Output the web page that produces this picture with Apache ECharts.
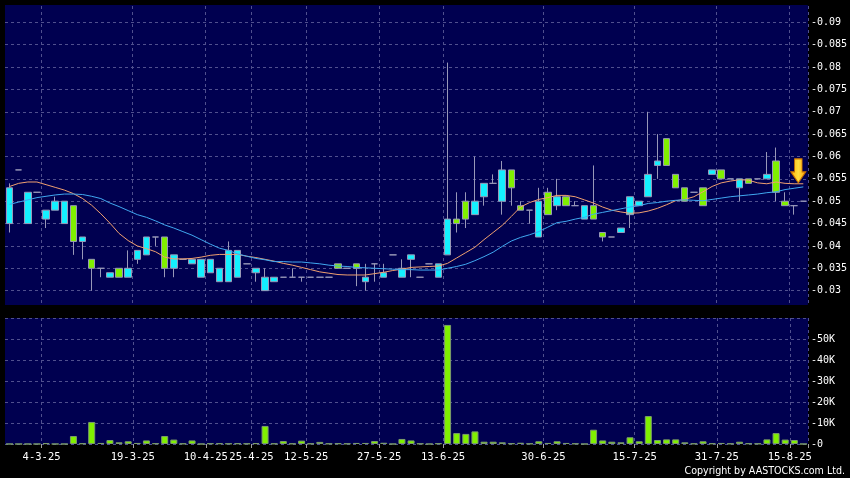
<!DOCTYPE html>
<html>
<head>
<meta charset="utf-8">
<script src="https://cdn.jsdelivr.net/npm/echarts@6/dist/echarts.min.js"></script>
<style>
html,body{margin:0;padding:0;background:#000;}
#chart{width:850px;height:478px;}
</style>
</head>
<body>
<div id="chart"></div>
<script>
// ---- data ----
const opens = [
  0.045,0.057,0.045,0.052,0.046,0.048,0.045,0.049,0.041,0.037,
  0.035,0.033,0.035,0.033,0.037,0.038,0.042,0.042,0.035,0.037,
  0.036,0.033,0.034,0.032,0.032,0.033,0.036,0.034,0.030,0.032,
  0.033,0.033,0.033,0.033,0.033,0.033,0.036,0.035,0.036,0.032,
  0.036,0.033,0.038,0.033,0.037,0.033,0.036,0.033,0.038,0.046,
  0.050,0.047,0.051,0.054,0.050,0.057,0.049,0.048,0.042,0.052,
  0.049,0.051,0.049,0.046,0.049,0.043,0.042,0.043,0.047,0.049,
  0.051,0.058,0.064,0.056,0.053,0.052,0.053,0.056,0.057,0.055,
  0.053,0.055,0.055,0.055,0.059,0.050,0.049,0.050
];
const closes = [
  0.053,0.057,0.052,0.052,0.048,0.050,0.050,0.041,0.042,0.035,
  0.035,0.034,0.033,0.035,0.039,0.042,0.042,0.035,0.038,0.037,
  0.037,0.037,0.037,0.035,0.039,0.039,0.036,0.035,0.033,0.033,
  0.033,0.033,0.033,0.033,0.033,0.033,0.035,0.035,0.035,0.033,
  0.036,0.034,0.038,0.035,0.038,0.033,0.036,0.036,0.046,0.045,
  0.046,0.050,0.054,0.054,0.057,0.053,0.048,0.048,0.050,0.047,
  0.051,0.049,0.049,0.049,0.046,0.042,0.042,0.044,0.051,0.050,
  0.056,0.059,0.058,0.053,0.050,0.052,0.049,0.057,0.055,0.055,
  0.055,0.054,0.055,0.056,0.052,0.049,0.049,0.050
];
const lows = [
  0.043,0.057,0.045,0.052,0.044,0.048,0.045,0.038,0.037,0.030,
  0.033,0.033,0.033,0.033,0.036,0.038,0.040,0.033,0.033,0.037,
  0.036,0.033,0.034,0.032,0.032,0.033,0.036,0.032,0.030,0.032,
  0.033,0.033,0.032,0.033,0.033,0.033,0.035,0.035,0.031,0.030,
  0.032,0.033,0.038,0.033,0.033,0.033,0.036,0.033,0.038,0.043,
  0.044,0.047,0.049,0.054,0.047,0.049,0.048,0.045,0.042,0.047,
  0.048,0.049,0.049,0.046,0.046,0.041,0.042,0.043,0.044,0.049,
  0.051,0.055,0.058,0.053,0.050,0.052,0.049,0.056,0.055,0.055,
  0.050,0.054,0.055,0.055,0.050,0.049,0.047,0.050
];
const highs = [
  0.054,0.057,0.052,0.052,0.048,0.051,0.050,0.049,0.042,0.037,
  0.035,0.034,0.035,0.039,0.039,0.042,0.042,0.042,0.038,0.037,
  0.037,0.037,0.037,0.035,0.041,0.039,0.036,0.035,0.035,0.033,
  0.033,0.035,0.033,0.033,0.033,0.033,0.036,0.035,0.036,0.036,
  0.036,0.036,0.038,0.037,0.038,0.033,0.036,0.036,0.081,0.052,
  0.052,0.060,0.054,0.056,0.059,0.057,0.050,0.048,0.053,0.053,
  0.055,0.051,0.050,0.049,0.058,0.043,0.042,0.044,0.051,0.050,
  0.070,0.065,0.064,0.056,0.053,0.052,0.053,0.057,0.057,0.055,
  0.055,0.055,0.055,0.061,0.062,0.052,0.049,0.050
];
const volumes = [
  0,0,0,0,400,0,0,3800,300,10500,
  500,1900,800,1300,500,1700,300,3800,2100,200,
  1700,0,300,300,200,300,200,400,8600,200,
  1400,200,1600,200,1000,200,300,200,500,500,
  1400,600,0,2400,1700,200,0,300,56700,5200,
  4800,6000,1100,1100,800,300,600,200,1300,500,
  1300,500,200,0,6800,1700,1100,800,3200,1300,
  13300,1900,2200,2200,800,200,1300,300,500,200,
  1100,300,200,2200,5200,2100,1900,0
];
const maShort = [
  0.0533,0.0540,0.0543,0.0543,0.0537,0.0531,0.0525,0.0517,0.0506,0.0491,
  0.0472,0.0451,0.0428,0.0412,0.0400,0.0394,0.0387,0.0375,0.0371,0.0371,
  0.0372,0.0375,0.0379,0.0381,0.0381,0.0381,0.0377,0.0374,0.0370,0.0366,
  0.0361,0.0357,0.0352,0.0347,0.0342,0.0339,0.0336,0.0335,0.0335,0.0335,
  0.0338,0.0341,0.0345,0.0348,0.0352,0.0353,0.0354,0.0355,0.0361,0.0373,
  0.0385,0.0397,0.0414,0.0430,0.0446,0.0466,0.0487,0.0497,0.0504,0.0508,
  0.0513,0.0513,0.0510,0.0503,0.0496,0.0487,0.0480,0.0476,0.0473,0.0474,
  0.0478,0.0484,0.0492,0.0501,0.0504,0.0510,0.0521,0.0533,0.0541,0.0545,
  0.0548,0.0547,0.0541,0.0539,0.0543,0.0540,0.0539,0.0539
];
const maLong = [
  0.0493,0.0498,0.0503,0.0508,0.0511,0.0514,0.0516,0.0516,0.0515,0.0511,
  0.0506,0.0496,0.0488,0.0479,0.0470,0.0464,0.0456,0.0447,0.0440,0.0432,
  0.0424,0.0414,0.0404,0.0395,0.0390,0.0382,0.0377,0.0372,0.0369,0.0365,
  0.0365,0.0364,0.0364,0.0362,0.0360,0.0357,0.0355,0.0354,0.0352,0.0351,
  0.0350,0.0349,0.0348,0.0347,0.0347,0.0346,0.0346,0.0346,0.0350,0.0354,
  0.0359,0.0367,0.0376,0.0386,0.0399,0.0411,0.0419,0.0425,0.0432,0.0442,
  0.0452,0.0455,0.0460,0.0464,0.0471,0.0475,0.0479,0.0483,0.0487,0.0490,
  0.0495,0.0497,0.0500,0.0502,0.0503,0.0502,0.0501,0.0504,0.0507,0.0510,
  0.0512,0.0514,0.0516,0.0519,0.0521,0.0526,0.0529,0.0532
];
const tickIndex  = [4, 14, 22, 27, 33, 41, 48, 59, 69, 78, 86];
const tickLabels = ['4-3-25','19-3-25','10-4-25','25-4-25','12-5-25','27-5-25','13-6-25','30-6-25','15-7-25','31-7-25','15-8-25'];
const priceMin = 0.03, priceMax = 0.09, priceStep = 0.005;
const volumeMax = 50000, volumeStep = 10000;
const arrowPrice = 0.0568;
const categories = opens.map((_, i) => 'D' + (i + 1));

// ---- styles ----
const BG = '#000000', PLOT = '#000050', GRIDC = '#50508e';
const UP = '#14f0ff', DOWN = '#80f000', WICK = '#9898b8';
const MONO = "'DejaVu Sans Mono', 'Liberation Mono', monospace";
const COND = "'DejaVu Sans Condensed', 'Liberation Sans Narrow', 'DejaVu Sans', sans-serif";

const isTick = (i) => tickIndex.indexOf(i) >= 0;
const candleData = opens.map((o, i) => [o, closes[i], lows[i], highs[i]]);
const dash = { color: GRIDC, type: [3, 3], width: 1 };

const chart = echarts.init(document.getElementById('chart'), null, {renderer: 'canvas'});
chart.setOption({
  animation: false,
  backgroundColor: BG,
  grid: [
    {left: 5, right: 42, top: -9, height: 322, show: true, backgroundColor: PLOT, borderWidth: 0},
    {left: 5, right: 42, top: 318, height: 126, show: true, backgroundColor: PLOT, borderWidth: 0}
  ],
  xAxis: [
    {type: 'category', gridIndex: 0, data: categories, boundaryGap: true,
     axisLine: {show: false}, axisTick: {show: false}, axisLabel: {show: false},
     splitLine: {show: true, interval: (i) => isTick(i), lineStyle: dash}},
    {type: 'category', gridIndex: 1, data: categories, boundaryGap: true,
     axisLine: {show: false},
     axisTick: {show: true, interval: (i) => isTick(i), length: 4, lineStyle: {color: '#a0a0a0'}},
     axisLabel: {show: true, interval: (i) => isTick(i), color: '#ffffff', fontSize: 10.5, fontFamily: MONO,
                 margin: 8, padding: [0, 9, 0, 0],
                 formatter: (v, i) => { const k = tickIndex.indexOf(i); return k >= 0 ? tickLabels[k] : ''; }},
     splitLine: {show: true, interval: (i) => isTick(i), lineStyle: dash}}
  ],
  yAxis: [
    {type: 'value', gridIndex: 0, position: 'right', min: 0.025, max: 0.095, interval: priceStep,
     axisLine: {show: false}, axisTick: {show: false},
     axisLabel: {color: '#ffffff', fontSize: 10, fontFamily: MONO, margin: 3,
                 formatter: (v) => (v < priceMin - 1e-6 || v > priceMax + 1e-6) ? '' : '-' + parseFloat(v.toFixed(3))},
     splitLine: {show: true, lineStyle: dash}},
    {type: 'value', gridIndex: 1, position: 'right', min: 0, max: 60000, interval: volumeStep,
     axisLine: {show: false}, axisTick: {show: false},
     axisLabel: {color: '#ffffff', fontSize: 10, fontFamily: MONO, margin: 3,
                 formatter: (v) => v > volumeMax ? '' : (v === 0 ? '-0' : '-' + (v / 1000) + 'K')},
     splitLine: {show: true, lineStyle: dash}}
  ],
  series: [
    {type: 'candlestick', xAxisIndex: 0, yAxisIndex: 0, data: candleData, barWidth: 7,
     itemStyle: {color: UP, color0: DOWN, borderColor: WICK, borderColor0: WICK, borderColorDoji: WICK, borderWidth: 1},
     markPoint: {
       symbol: 'path://M4,0 L12,0 L12,13 L16,13 L8,24 L0,13 L4,13 Z',
       symbolSize: [15, 24], symbolOffset: [-5, 0], label: {show: false},
       itemStyle: {color: new echarts.graphic.LinearGradient(0, 0, 1, 0, [
         {offset: 0, color: '#ffb000'}, {offset: 0.5, color: '#ffe040'}, {offset: 1, color: '#ff9c00'}]),
         borderColor: '#c87000', borderWidth: 1},
       data: [{coord: [categories[categories.length - 1], arrowPrice]}]
     }},
    {type: 'line', xAxisIndex: 0, yAxisIndex: 0, data: maShort, showSymbol: false,
     lineStyle: {color: '#f0a070', width: 1}},
    {type: 'line', xAxisIndex: 0, yAxisIndex: 0, data: maLong, showSymbol: false,
     lineStyle: {color: '#40a8f0', width: 1}},
    {type: 'bar', xAxisIndex: 1, yAxisIndex: 1, data: volumes, barWidth: 7,
     itemStyle: {color: DOWN, borderColor: '#7c9c6c', borderWidth: 1}}
  ],
  graphic: [
    {type: 'rect', z: 100, shape: {x: 0, y: 0, width: 850, height: 5}, style: {fill: BG}},
    {type: 'rect', z: 100, shape: {x: 0, y: 305, width: 850, height: 13}, style: {fill: BG}},
    {type: 'text', z: 100, right: 5, top: 466,
     style: {text: 'Copyright by AASTOCKS.com Ltd.', fill: '#ffffff', fontSize: 10.6, fontFamily: COND}}
  ]
});
</script>
</body>
</html>
